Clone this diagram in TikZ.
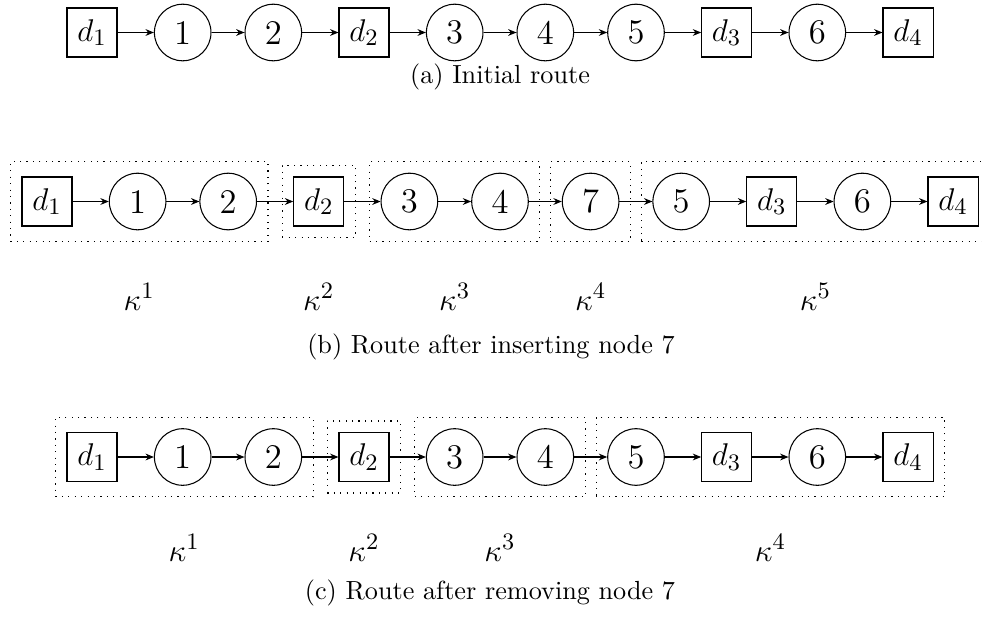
\documentclass[tikz,border=0pt]{standalone}
\usetikzlibrary{arrows.meta,fit}
\begin{document}
\begin{tikzpicture}[x=0.3817pt,y=-0.3817pt,
  depot/.style={draw,rectangle,minimum width=19.1pt,minimum height=18.7pt,inner sep=0pt,font=\fontsize{13.2}{15}\selectfont},
  cust/.style={draw,circle,minimum size=21.6pt,inner sep=0pt,font=\fontsize{13.2}{15}\selectfont},
  link/.style={-{Stealth[length=3.2pt,width=2.6pt]},line width=0.4pt},
  grp/.style={draw,dotted,line width=0.45pt,inner sep=4.2pt,rectangle},
  kap/.style={font=\fontsize{13}{15}\selectfont,inner sep=0pt},
  captext/.style={font=\normalsize,inner sep=0pt}]
\useasboundingbox (0,0) rectangle (982,620);
% ---------- (a)
\node[depot] (a1) at (92,32.5) {$d_1$};
\node[cust] (a2) at (182.7,32.5) {1};
\node[cust] (a3) at (273.3,32.5) {2};
\node[depot] (a4) at (364,32.5) {$d_2$};
\node[cust] (a5) at (454.7,32.5) {3};
\node[cust] (a6) at (545.3,32.5) {4};
\node[cust] (a7) at (636,32.5) {5};
\node[depot] (a8) at (726.7,32.5) {$d_3$};
\node[cust] (a9) at (817.3,32.5) {6};
\node[depot] (a10) at (908,32.5) {$d_4$};
\foreach \i/\j in {a1/a2,a2/a3,a3/a4,a4/a5,a5/a6,a6/a7,a7/a8,a8/a9,a9/a10}
  \draw[link] (\i) -- (\j);
\node[captext] (capa) at (500,77) {(a) Initial route};
% ---------- (b)
\node[depot] (b1) at (47,201.5) {$d_1$};
\node[cust] (b2) at (137.6,201.5) {1};
\node[cust] (b3) at (228.2,201.5) {2};
\node[depot] (b4) at (318.8,201.5) {$d_2$};
\node[cust] (b5) at (409.4,201.5) {3};
\node[cust] (b6) at (500,201.5) {4};
\node[cust] (b7) at (590.6,201.5) {7};
\node[cust] (b8) at (681.2,201.5) {5};
\node[depot] (b9) at (771.8,201.5) {$d_3$};
\node[cust] (b10) at (862.4,201.5) {6};
\node[depot] (b11) at (953,201.5) {$d_4$};
\foreach \i/\j in {b1/b2,b2/b3,b3/b4,b4/b5,b5/b6,b6/b7,b7/b8,b8/b9,b9/b10,b10/b11}
  \draw[link] (\i) -- (\j);
\node[grp,fit=(b1)(b3)] (gb1) {};
\node[grp,fit=(b4)] (gb2) {};
\node[grp,fit=(b5)(b6)] (gb3) {};
\node[grp,fit=(b7)] (gb4) {};
\node[grp,fit=(b8)(b11)] (gb5) {};
\coordinate (kyb) at (0,297);
\node[kap] (kb1) at (gb1 |- kyb) {$\kappa^1$};
\node[kap] (kb2) at (gb2 |- kyb) {$\kappa^2$};
\node[kap] (kb3) at (gb3 |- kyb) {$\kappa^3$};
\node[kap] (kb4) at (gb4 |- kyb) {$\kappa^4$};
\node[kap] (kb5) at (gb5 |- kyb) {$\kappa^5$};
\node[captext] (capb) at (491,347) {(b) Route after inserting node 7};
% ---------- (c)
\node[depot] (c1) at (92,457) {$d_1$};
\node[cust] (c2) at (182.7,457) {1};
\node[cust] (c3) at (273.3,457) {2};
\node[depot] (c4) at (364,457) {$d_2$};
\node[cust] (c5) at (454.7,457) {3};
\node[cust] (c6) at (545.3,457) {4};
\node[cust] (c7) at (636,457) {5};
\node[depot] (c8) at (726.7,457) {$d_3$};
\node[cust] (c9) at (817.3,457) {6};
\node[depot] (c10) at (908,457) {$d_4$};
\foreach \i/\j in {c1/c2,c2/c3,c3/c4,c4/c5,c5/c6,c6/c7,c7/c8,c8/c9,c9/c10}
  \draw[link] (\i) -- (\j);
\node[grp,fit=(c1)(c3)] (gc1) {};
\node[grp,fit=(c4)] (gc2) {};
\node[grp,fit=(c5)(c6)] (gc3) {};
\node[grp,fit=(c7)(c10)] (gc4) {};
\coordinate (kyc) at (0,548);
\node[kap] (kc1) at (gc1 |- kyc) {$\kappa^1$};
\node[kap] (kc2) at (gc2 |- kyc) {$\kappa^2$};
\node[kap] (kc3) at (gc3 |- kyc) {$\kappa^3$};
\node[kap] (kc4) at (gc4 |- kyc) {$\kappa^4$};
\node[captext] (capc) at (490,593) {(c) Route after removing node 7};
\end{tikzpicture}
\end{document}
